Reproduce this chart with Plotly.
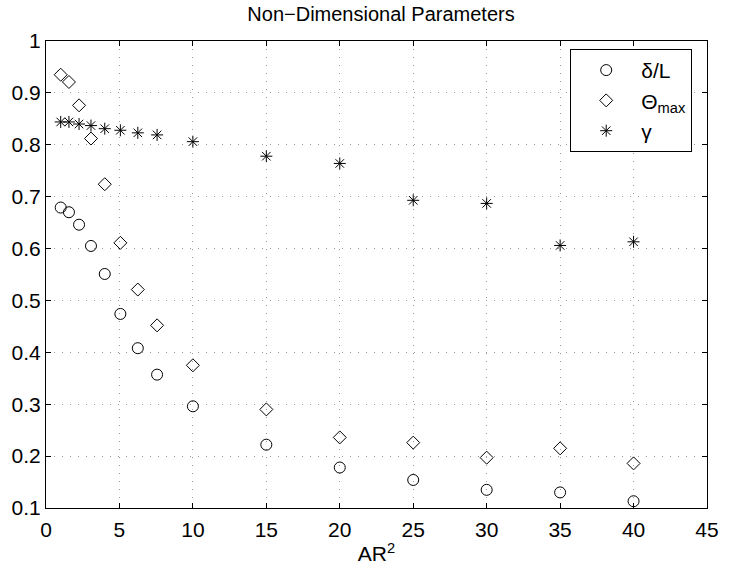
import plotly.graph_objects as go

ar2 = [1, 1.5625, 2.25, 3.0625, 4, 5.0625, 6.25, 7.5625, 10, 15, 20, 25, 30, 35, 40]
delta_L = [0.679, 0.670, 0.646, 0.605, 0.551, 0.474, 0.408, 0.357, 0.296,
           0.222, 0.178, 0.154, 0.135, 0.130, 0.113]
theta_max = [0.935, 0.921, 0.876, 0.812, 0.724, 0.611, 0.521, 0.452, 0.375,
             0.290, 0.236, 0.226, 0.197, 0.215, 0.186]
gamma = [0.844, 0.844, 0.840, 0.837, 0.831, 0.828, 0.823, 0.819, 0.806,
         0.778, 0.764, 0.693, 0.687, 0.606, 0.613]

x_ticks = [0, 5, 10, 15, 20, 25, 30, 35, 40, 45]
y_ticks = [0.1, 0.2, 0.3, 0.4, 0.5, 0.6, 0.7, 0.8, 0.9, 1]
y_tick_text = ["0.1", "0.2", "0.3", "0.4", "0.5", "0.6", "0.7", "0.8", "0.9", "1"]

FONT = "Liberation Sans, Arial, Helvetica, sans-serif"

fig = go.Figure()
fig.add_trace(go.Scatter(x=ar2, y=delta_L, mode="markers", name="δ/L",
                         marker=dict(symbol="circle-open", size=11, color="black",
                                     line=dict(width=1, color="black"))))
fig.add_trace(go.Scatter(x=ar2, y=theta_max, mode="markers", name="Θ<sub>max</sub>",
                         marker=dict(symbol="diamond-open", size=10, color="black",
                                     line=dict(width=1, color="black"))))
fig.add_trace(go.Scatter(x=ar2, y=gamma, mode="markers", name="γ",
                         marker=dict(symbol="asterisk-open", size=10, color="black",
                                     line=dict(width=1, color="black"))))

axis_common = dict(
    showline=True, linecolor="black", linewidth=1, mirror="ticks",
    ticks="inside", ticklen=5, tickcolor="black",
    showgrid=True, gridcolor="#9a9a9a", griddash="1px,7px", gridwidth=1,
    zeroline=False,
    tickfont=dict(family=FONT, size=21, color="black"),
)

fig.update_xaxes(range=[0, 45], tickvals=x_ticks,
                 title=dict(text="AR<sup>2</sup>", font=dict(family=FONT, size=21, color="black"),
                            standoff=6),
                 ticklabelstandoff=3,
                 **axis_common)
fig.update_yaxes(range=[0.1, 1], tickvals=y_ticks, ticktext=y_tick_text, **axis_common)

fig.update_layout(
    width=731, height=574,
    margin=dict(l=46, r=15, t=41, b=65),
    paper_bgcolor="white", plot_bgcolor="white",
    title=dict(text="Non\u2212Dimensional Parameters", x=(46 + 716) / 2 / 731, xanchor="center",
               y=1 - 14 / 574, yanchor="middle",
               font=dict(family=FONT, size=20, color="black")),
    legend=dict(x=0.9776, xanchor="right", y=0.983, yanchor="top",
                bgcolor="white", bordercolor="black", borderwidth=1,
                font=dict(family=FONT, size=21, color="black"),
                itemwidth=60),
    showlegend=True,
)

fig.write_html("out.html")
